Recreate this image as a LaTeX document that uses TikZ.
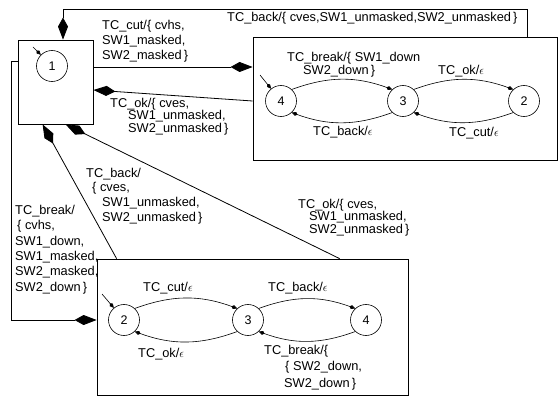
\documentclass[tikz,border=0pt]{standalone}
\usepackage{fontspec}
\setmainfont{Liberation Sans}
\usetikzlibrary{arrows.meta}
\newcommand{\fl}{\rule{0pt}{10pt}}
\begin{document}
\begin{tikzpicture}[x=1pt,y=1pt,
  boxst/.style={draw, line width=0.8pt, inner sep=0pt},
  state/.style={draw, circle, line width=0.6pt, minimum size=31pt, inner sep=0pt, font=\fontsize{12.5}{14}\selectfont},
  conn/.style={line width=0.8pt},
  bigtip/.style={-{Kite[length=22pt,width=10pt,inset=9pt]}},
  smtip/.style={line width=0.6pt,-{Kite[length=6pt,width=4pt,inset=2pt]}},
  lbl/.style={anchor=north west, align=left, inner sep=0pt, font=\fontsize{12.8}{#1}\selectfont},
  lbl/.default=15]

\useasboundingbox (0,0) rectangle (558,-396);

% boxes
\node[boxst, minimum width=75pt, minimum height=84pt] (b1) at (55.5,-82) {};
\node[boxst, minimum width=304pt, minimum height=123pt] (b2) at (405,-98.5) {};
\node[boxst, minimum width=311pt, minimum height=136pt] (b3) at (252.5,-327) {};

% states
\node[state] (s1) at (52,-66) {1};
\node[state] (r4) at (281,-101) {4};
\node[state] (r3) at (403,-101) {3};
\node[state] (r2) at (524,-101) {2};
\node[state] (q2) at (124,-320) {2};
\node[state] (q3) at (248,-320) {3};
\node[state] (q4) at (366,-320) {4};

% initial arrows
\coordinate (i1) at (33,-47);
\coordinate (i2) at (260,-75);
\coordinate (i3) at (102,-294);
\draw[smtip] (i1) -- (s1.135);
\draw[smtip] (i2) -- (r4.129);
\draw[smtip] (i3) -- (q2.130);

% transitions inside box 2
\draw[smtip] (r4.47) to[out=20,in=160] (r3.133);
\draw[smtip] (r3.47) to[out=20,in=160] (r2.133);
\draw[smtip] (r2.227) to[out=200,in=-20] (r3.-47);
\draw[smtip] (r3.227) to[out=200,in=-20] (r4.-47);

% transitions inside box 3
\draw[smtip] (q2.47) to[out=20,in=160] (q3.133);
\draw[smtip] (q3.47) to[out=20,in=160] (q4.133);
\draw[smtip] (q4.227) to[out=200,in=-20] (q3.-47);
\draw[smtip] (q3.227) to[out=200,in=-20] (q2.-47);

% connectors between boxes
\draw[conn,bigtip] ([xshift=-30pt]b2.north east) -- ++(0,27) -| ([xshift=7.5pt]b1.north);
\draw[conn,bigtip] ([yshift=15pt]b1.east) -- ([yshift=31.5pt]b2.west);
\draw[conn,bigtip] ([yshift=-2.5pt]b2.west) -- ([yshift=-8pt]b1.east);
\draw[conn,bigtip] ([xshift=20pt]b3.north west) -- ([xshift=25pt]b1.south west);
\draw[conn,bigtip] ([xshift=243pt]b3.north west) -- ([xshift=48pt]b1.south west);
\draw[conn,bigtip] ([yshift=-22pt]b1.north west) -- ++(-6,0) |- ([yshift=7pt]b3.west);

% labels between boxes
\node[lbl=15] (l1) at (102,-19) {\fl TC\_cut/\{ cvhs,\\SW1\_masked,\\SW2\_masked\,\}};
\node[lbl=12.5] (l2) at (110,-97) {\fl TC\_ok/\{ cves,\\\hspace*{18pt}SW1\_unmasked,\\\hspace*{18pt}SW2\_unmasked\,\}};
\node[lbl] (l3) at (227,-11) {\fl TC\_back/\{ cves,SW1\_unmasked,SW2\_unmasked\,\}};
\node[lbl=14.7] (l4) at (86,-167) {\fl TC\_back/\\\hspace*{6pt}\{ cves,\\\hspace*{16pt}SW1\_unmasked,\\\hspace*{16pt}SW2\_unmasked\,\}};
\node[lbl=12.5] (l5) at (298,-198) {\fl TC\_ok/\{ cves,\\\hspace*{11pt}SW1\_unmasked,\\\hspace*{11pt}SW2\_unmasked\,\}};
\node[lbl=15.4] (l6) at (15,-204) {\fl TC\_break/\\\hspace*{2pt}\{ cvhs,\\SW1\_down,\\SW1\_masked,\\SW2\_masked,\\SW2\_down\,\}};

% labels inside box 2
\node[lbl=11.7] (l7) at (287,-51) {\fl TC\_break/\{ SW1\_down\\\hspace*{16pt}SW2\_down\,\}};
\node[lbl] (l8) at (438,-64) {\fl TC\_ok/$\epsilon$};
\node[lbl] (l9) at (313,-125) {\fl TC\_back/$\epsilon$};
\node[lbl] (l10) at (449,-126) {\fl TC\_cut/$\epsilon$};

% labels inside box 3
\node[lbl] (l11) at (143,-281) {\fl TC\_cut/$\epsilon$};
\node[lbl] (l12) at (268,-281) {\fl TC\_back/$\epsilon$};
\node[lbl] (l13) at (138,-347) {\fl TC\_ok/$\epsilon$};
\node[lbl=16.5] (l14) at (264,-344) {\fl TC\_break/\{\\\hspace*{21pt}\{ SW2\_down,\\\hspace*{20pt}SW2\_down\,\}};
\end{tikzpicture}
\end{document}
